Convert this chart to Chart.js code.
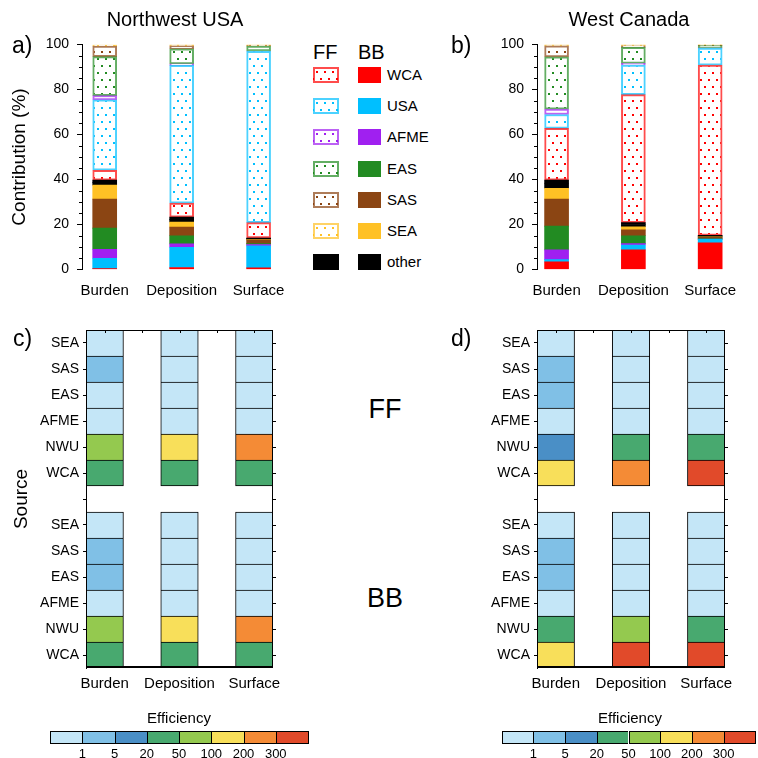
<!DOCTYPE html>
<html>
<head>
<meta charset="utf-8">
<script src="https://cdn.jsdelivr.net/npm/chart.js@4/dist/chart.umd.min.js"></script>
<style>
  body { margin: 0; background: #fff; font-family: "Liberation Sans", Arial, sans-serif; color: #000; }
  #wrap { position: relative; width: 758px; height: 758px; overflow: hidden; }
  #wrap canvas, .t, .sw, .cb, .cbl { position: absolute; }
  .t { white-space: nowrap; line-height: 1; }
  .sw { box-sizing: border-box; }
  .cb { box-sizing: border-box; border: 1px solid #000; border-right: none; height: 13px; }
  .cbl { font-size: 13px; transform: translateX(-50%); }
</style>
</head>
<body>
<div id="wrap">
  <canvas id="cA" width="300" height="310" style="left:0;top:0"></canvas>
  <canvas id="cB" width="303" height="310" style="left:455px;top:0"></canvas>
  <canvas id="cC" width="300" height="400" style="left:0;top:310px"></canvas>
  <canvas id="cD" width="303" height="400" style="left:455px;top:310px"></canvas>

  <div class="t" style="left:175px;top:9px;font-size:20px;transform:translateX(-50%)">Northwest USA</div>
  <div class="t" style="left:629px;top:9px;font-size:20px;transform:translateX(-50%)">West Canada</div>
  <div class="t" style="left:12px;top:34px;font-size:23px">a)</div>
  <div class="t" style="left:451px;top:34px;font-size:23px">b)</div>
  <div class="t" style="left:13px;top:327px;font-size:23px">c)</div>
  <div class="t" style="left:451px;top:327px;font-size:23px">d)</div>
  <div class="t" style="left:385px;top:396px;font-size:27px;transform:translateX(-50%)">FF</div>
  <div class="t" style="left:385px;top:585px;font-size:27px;transform:translateX(-50%)">BB</div>
  <div id="legend"></div>
  <div id="bars"></div>
</div>
<script>
const categories = ['Burden', 'Deposition', 'Surface'];
const sources = ['WCA', 'USA', 'AFME', 'EAS', 'SAS', 'SEA', 'other'];
const sourceColors = ['#ff0000', '#00bfff', '#a020f0', '#228b22', '#8b4513', '#ffc125', '#000000'];

// contribution (%), one row per source (same order as sources), columns = categories
const nwBB = [
  [0.4, 0.9, 0.7],
  [4.6, 9.0, 9.8],
  [4.0, 1.5, 0.6],
  [9.4, 3.6, 0.4],
  [12.9, 3.9, 1.6],
  [6.2, 2.2, 0.2],
  [1.2, 1.2, 0.4]
];
const nwFF = [
  [4.4, 6.2, 6.8],
  [31.3, 61.2, 76.2],
  [1.9, 0.7, 0.1],
  [17.3, 6.7, 2.2],
  [4.7, 1.3, 0.2],
  [0.6, 0.6, 0.5],
  [1.0, 1.0, 0.3]
];
const wcBB = [
  [3.4, 8.7, 11.9],
  [1.0, 2.2, 1.5],
  [4.3, 0.6, 0.1],
  [10.6, 3.5, 0.3],
  [12.0, 2.6, 0.5],
  [4.8, 1.4, 0.2],
  [2.0, 1.0, 0.4]
];
const wcFF = [
  [23.0, 56.9, 75.6],
  [6.2, 13.2, 7.6],
  [2.4, 0.7, 0.1],
  [23.2, 7.1, 1.0],
  [4.9, 0.7, 0.1],
  [0.6, 0.6, 0.5],
  [1.6, 0.8, 0.3]
];

// efficiency, rows top to bottom
const effRows = ['SEA', 'SAS', 'EAS', 'AFME', 'NWU', 'WCA'];
const nwEffFF = [[0.5, 0.5, 0.5], [3, 0.5, 0.5], [0.5, 0.5, 0.5], [0.5, 0.5, 0.5], [75, 150, 250], [35, 35, 35]];
const nwEffBB = [[0.5, 0.5, 0.5], [3, 0.5, 0.5], [3, 0.5, 0.5], [0.5, 0.5, 0.5], [75, 150, 250], [35, 35, 35]];
const wcEffFF = [[0.5, 0.5, 0.5], [3, 0.5, 0.5], [3, 0.5, 0.5], [0.5, 0.5, 0.5], [10, 35, 35], [150, 250, 400]];
const wcEffBB = [[0.5, 0.5, 0.5], [3, 0.5, 0.5], [3, 0.5, 0.5], [0.5, 0.5, 0.5], [35, 75, 35], [150, 400, 400]];

const effBounds = [1, 5, 20, 50, 100, 200, 300];
const effColors = ['#c4e6f7', '#80c0e6', '#4a8fc6', '#48a96f', '#94c94f', '#f8df5a', '#f48b36', '#e14a2a'];

const FONT = '"Liberation Sans", Arial, sans-serif';
Chart.defaults.font.family = FONT;
Chart.defaults.color = '#000';

function effColor(v) {
  let i = 0;
  while (i < effBounds.length && v >= effBounds[i]) i++;
  return effColors[i];
}

function dotTile(color) {
  const c = document.createElement('canvas');
  c.width = 8; c.height = 14;
  const g = c.getContext('2d');
  g.fillStyle = '#fff';
  g.fillRect(0, 0, 8, 14);
  g.fillStyle = color;
  g.fillRect(1, 2, 2, 2);
  g.fillRect(5, 9, 2, 2);
  return c;
}

function fade(hex, a) {
  const n = parseInt(hex.slice(1), 16);
  return 'rgba(' + (n >> 16) + ',' + ((n >> 8) & 255) + ',' + (n & 255) + ',' + a + ')';
}

function stackSets(bb, ff, ctx) {
  const pts = vals => vals.map((v, j) => ({x: j + 1, y: v}));
  const sets = [];
  bb.forEach((vals, i) => sets.push({
    label: 'BB ' + sources[i], data: pts(vals), backgroundColor: sourceColors[i], borderWidth: 0
  }));
  sets.push({label: 'FF other', data: pts(ff[6]), backgroundColor: '#000', borderWidth: 0});
  for (let i = 0; i < 6; i++) {
    sets.push({
      label: 'FF ' + sources[i], data: pts(ff[i]),
      backgroundColor: ctx.createPattern(dotTile(sourceColors[i]), 'repeat'),
      borderColor: fade(sourceColors[i], 0.7), borderWidth: 2, borderSkipped: false
    });
  }
  return sets;
}

const minorTicks = {
  id: 'minorTicks',
  afterDraw(chart) {
    const y = chart.scales.y, x0 = chart.chartArea.left, g = chart.ctx;
    g.save();
    g.strokeStyle = '#000';
    g.lineWidth = 1;
    g.beginPath();
    for (let v = 5; v < 100; v += 5) {
      if (v % 20 === 0) continue;
      const p = Math.round(y.getPixelForValue(v)) + 0.5;
      g.moveTo(x0 - 3, p); g.lineTo(x0, p);
    }
    g.stroke();
    g.restore();
  }
};

function contribChart(id, bb, ff, xmin, padRight, yTitle) {
  const el = document.getElementById(id);
  const ctx = el.getContext('2d');
  const yw = 82;
  return new Chart(ctx, {
    type: 'bar',
    data: {datasets: stackSets(bb, ff, ctx)},
    plugins: [minorTicks],
    options: {
      responsive: false, animation: false,
      layout: {padding: {top: 44.5, right: padRight, left: 0, bottom: 0}},
      plugins: {legend: {display: false}, tooltip: {enabled: false}},
      datasets: {bar: {barThickness: 24}},
      scales: {
        x: {
          type: 'linear', stacked: true, offset: false, min: xmin, max: 3.3,
          afterFit: s => { s.height = 40.5; },
          afterBuildTicks: s => { s.ticks = categories.map((c, i) => ({value: i + 1})); },
          ticks: {callback: (v, i) => categories[i], font: {size: 15}, padding: 12, maxRotation: 0, autoSkip: false},
          grid: {display: false, drawTicks: false}, border: {display: false}
        },
        y: {
          stacked: true, min: 0, max: 100,
          afterFit: s => { s.width = yw; },
          ticks: {stepSize: 20, font: {size: 14}, padding: 8},
          grid: {drawOnChartArea: false, tickLength: 5, color: '#000'},
          border: {color: '#000'},
          title: {display: !!yTitle, text: yTitle || '', font: {size: 19}, padding: {top: 8}}
        }
      }
    }
  });
}

const effLabels = ['WCA', 'NWU', 'AFME', 'EAS', 'SAS', 'SEA', '', 'WCA', 'NWU', 'AFME', 'EAS', 'SAS', 'SEA'];

function heatSets(ff, bb) {
  // bottom to top: BB rows, empty gap row, FF rows
  const order = [...bb.slice().reverse(), null, ...ff.slice().reverse()];
  return order.map((row, k) => ({
    label: effLabels[k],
    data: categories.map((c, j) => ({x: j + 1, y: 1})),
    backgroundColor: row ? row.map(effColor) : 'rgba(0,0,0,0)',
    borderColor: '#000',
    borderWidth: row ? {top: 1, left: 1, right: 1, bottom: (k === 0 || k === 7) ? 1 : 0} : 0,
    borderSkipped: false
  }));
}

const frame = {
  id: 'frame',
  afterDraw(chart) {
    const {left, right, top, bottom} = chart.chartArea;
    const g = chart.ctx, x = chart.scales.x, y = chart.scales.y;
    g.save();
    g.strokeStyle = '#000';
    g.lineWidth = 1;
    g.strokeRect(Math.round(left) + 0.5, Math.round(top) + 0.5, Math.round(right - left) - 1, Math.round(bottom - top) - 1);
    g.lineWidth = 2;
    g.beginPath();
    g.moveTo(left, Math.round(bottom) - 1); g.lineTo(right, Math.round(bottom) - 1);
    g.stroke();
    g.lineWidth = 1;
    g.beginPath();
    for (let v = 1; v <= 3; v += 0.5) {
      const p = Math.round(x.getPixelForValue(v)) + 0.5;
      g.moveTo(p, top); g.lineTo(p, top + 3);
    }
    for (let r = 0.5; r < 13; r += 1) {
      const p = Math.round(y.getPixelForValue(r)) + 0.5;
      g.moveTo(right, p); g.lineTo(right + 3, p);
    }
    g.stroke();
    g.restore();
  }
};

function heatChart(id, ff, bb, yw, padRight, yTitle) {
  const ctx = document.getElementById(id).getContext('2d');
  return new Chart(ctx, {
    type: 'bar',
    data: {datasets: heatSets(ff, bb)},
    plugins: [frame],
    options: {
      responsive: false, animation: false,
      layout: {padding: {top: 20, right: padRight, left: 0, bottom: 0}},
      plugins: {legend: {display: false}, tooltip: {enabled: false}},
      datasets: {bar: {barThickness: 37.5}},
      scales: {
        x: {
          type: 'linear', stacked: true, offset: false, min: 0.75, max: 3.25,
          afterFit: s => { s.height = 42; },
          afterBuildTicks: s => { s.ticks = categories.map((c, i) => ({value: i + 1})); },
          ticks: {callback: (v, i) => categories[i], font: {size: 15}, padding: 7, maxRotation: 0, autoSkip: false},
          grid: {display: false, drawTicks: false}, border: {display: false}
        },
        y: {
          stacked: true, min: 0, max: 13,
          afterFit: s => { s.width = yw; },
          afterBuildTicks: s => { s.ticks = effLabels.map((l, i) => ({value: i + 0.5})); },
          ticks: {callback: (v, i) => effLabels[i], font: {size: 14}, padding: 4, autoSkip: false},
          grid: {drawOnChartArea: false, tickLength: 3, color: '#000'},
          border: {color: '#000'},
          title: {display: !!yTitle, text: yTitle || '', font: {size: 19}, padding: {top: 10}}
        }
      }
    }
  });
}

contribChart('cA', nwBB, nwFF, 0.705, 18.3, 'Contribution (%)');
contribChart('cB', wcBB, wcFF, 0.745, 24.8, '');
heatChart('cC', nwEffFF, nwEffBB, 86, 27, 'Source');
heatChart('cD', wcEffFF, wcEffBB, 82, 33, '');

// legend for the contribution panels
const legend = document.getElementById('legend');
let html = '<div class="t" style="left:313px;top:42px;font-size:20px">FF</div>' +
           '<div class="t" style="left:358px;top:42px;font-size:20px">BB</div>';
sources.forEach((s, i) => {
  const cy = 75 + i * 31.2;
  const col = sourceColors[i];
  const ffStyle = s === 'other'
    ? 'background:#000;'
    : 'background-image:url(' + dotTile(col).toDataURL() + ');border:2px solid ' + fade(col, 0.7) + ';';
  html += '<div class="sw" style="left:313px;top:' + (cy - 8) + 'px;width:26px;height:16px;' + ffStyle + '"></div>';
  html += '<div class="sw" style="left:358px;top:' + (cy - 8) + 'px;width:23px;height:16px;background:' + col + '"></div>';
  html += '<div class="t" style="left:387px;top:' + (cy - 8) + 'px;font-size:15px">' + s + '</div>';
});
legend.innerHTML = html;

// efficiency colour bars
function colorBar(x0, w, cx) {
  let h = '<div class="t" style="left:' + cx + 'px;top:710px;font-size:15px;transform:translateX(-50%)">Efficiency</div>';
  effColors.forEach((c, i) => {
    h += '<div class="cb" style="left:' + (x0 + i * w) + 'px;top:731px;width:' + (w + (i === 7 ? 1 : 0)) + 'px;background:' + c +
         (i === 7 ? ';border-right:1px solid #000' : '') + '"></div>';
  });
  effBounds.forEach((b, i) => {
    h += '<div class="cbl" style="left:' + (x0 + (i + 1) * w) + 'px;top:746px">' + b + '</div>';
  });
  return h;
}
document.getElementById('bars').innerHTML = colorBar(50, 32.25, 179) + colorBar(501.7, 31.7, 630);
</script>
</body>
</html>
